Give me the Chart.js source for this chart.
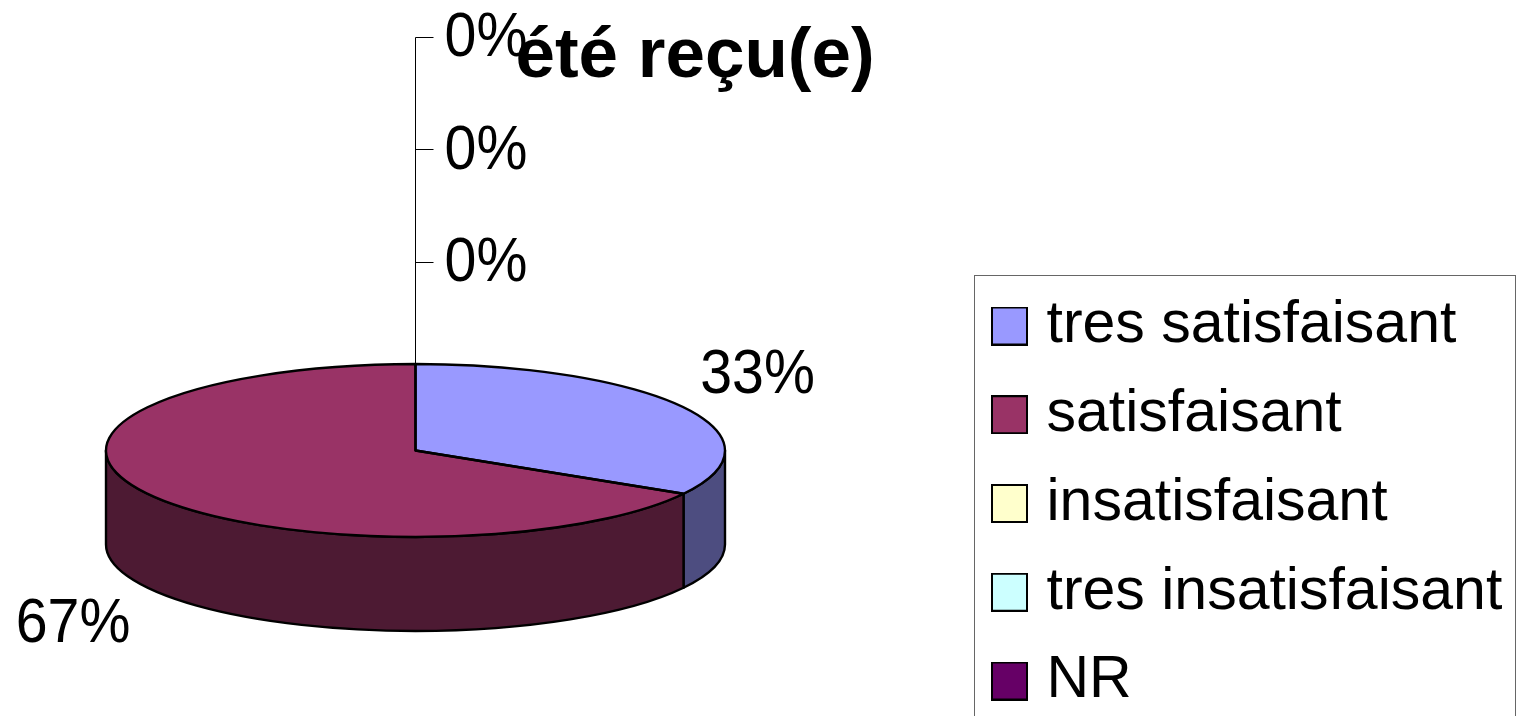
<!DOCTYPE html>
<html lang="fr">
<head>
<meta charset="utf-8">
<title>été reçu(e)</title>
<style>html,body{margin:0;padding:0;background:#fff;overflow:hidden}canvas{display:block}</style>
<script src="https://cdn.jsdelivr.net/npm/chart.js@4"></script>
</head>
<body>
<canvas id="c" width="1517" height="716"></canvas>
<script>
const titleText = 'été reçu(e)';
const categories = ['tres satisfaisant', 'satisfaisant', 'insatisfaisant', 'tres insatisfaisant', 'NR'];
const values = [1, 2, 0, 0, 0];
const topColors = ['#9999FF', '#993366', '#FFFFCC', '#CCFFFF', '#660066'];
const sideColors = ['#4D4D80', '#4D1A33', '#80805F', '#668080', '#330033'];

const FONT = '"Liberation Sans", Arial, sans-serif';
const SQUASH = 86.5 / 309.5;
const DEPTH = 94;

function swatch(color) {
  const s = document.createElement('canvas');
  s.width = 37; s.height = 39;
  const g = s.getContext('2d');
  g.fillStyle = color; g.fillRect(0, 0, 37, 39);
  g.strokeStyle = '#000'; g.lineWidth = 2; g.strokeRect(1, 1, 35, 37);
  return s;
}
const swatches = topColors.map(swatch);

const total = values.reduce((a, b) => a + b, 0);
const pct = v => Math.round(v / total * 100) + '%';

const pie3d = {
  id: 'pie3d',
  beforeDraw(chart) {
    const { ctx } = chart;
    ctx.save();
    ctx.strokeStyle = '#666'; ctx.lineWidth = 1;
    ctx.strokeRect(974.5, 275.5, 541, 470);
    ctx.restore();
  },
  afterLayout(chart) {
    const lg = chart.legend;
    const pad = lg.options.labels.padding;
    lg.left = 1002 - pad; lg.right = 1517; lg.top = 296.5 - pad; lg.bottom = lg.top + 560;
    const t = chart.titleBlock;
    const lh = t.options.font.size * 1.2;
    t.left = 395; t.right = 995; t.top = 57.5 - lh / 2; t.bottom = t.top + lh;
  },
  beforeDatasetsDraw(chart) {
    const { ctx } = chart;
    const arcs = chart.getDatasetMeta(0).data;
    ctx.save();
    arcs.forEach((el, i) => {
      if (!values[i]) return;
      const a = Math.max(el.startAngle, 0), b = Math.min(el.endAngle, Math.PI);
      if (b <= a) return;
      const rx = el.outerRadius, ry = rx * SQUASH;
      ctx.beginPath();
      ctx.ellipse(el.x, el.y, rx, ry, 0, a, b);
      ctx.ellipse(el.x, el.y + DEPTH, rx, ry, 0, b, a, true);
      ctx.closePath();
      ctx.fillStyle = sideColors[i]; ctx.fill();
      ctx.strokeStyle = '#000'; ctx.lineWidth = 2.4; ctx.lineJoin = 'round'; ctx.stroke();
    });
    ctx.restore();
    const o = arcs[0];
    ctx.save();
    ctx.translate(o.x, o.y); ctx.scale(1, SQUASH); ctx.translate(-o.x, -o.y);
  },
  afterDatasetsDraw(chart) {
    const { ctx } = chart;
    ctx.restore();
    const arcs = chart.getDatasetMeta(0).data;
    const o = arcs[0];
    const rx = o.outerRadius, ry = rx * SQUASH;
    ctx.save();
    ctx.strokeStyle = '#000'; ctx.lineWidth = 2.4; ctx.lineJoin = 'round';
    arcs.forEach((el, i) => {
      if (!values[i]) return;
      ctx.beginPath();
      ctx.moveTo(el.x, el.y);
      ctx.ellipse(el.x, el.y, rx, ry, 0, el.startAngle, el.endAngle);
      ctx.closePath();
      ctx.stroke();
    });
    // leader line shared by the three empty slices
    const tickY = [37, 149, 262];
    const lx = Math.floor(o.x) + 0.5;
    ctx.lineWidth = 1;
    ctx.beginPath();
    ctx.moveTo(lx, o.y);
    ctx.lineTo(lx, tickY[0] + 0.5);
    tickY.forEach(y => { ctx.moveTo(lx, y + 0.5); ctx.lineTo(o.x + 18, y + 0.5); });
    ctx.stroke();
    // value labels
    ctx.fillStyle = '#000';
    ctx.font = '60px ' + FONT;
    ctx.textAlign = 'center'; ctx.textBaseline = 'middle';
    const pos = [[757.5, 376], [73, 625], [486, 39], [486, 152], [486, 264]];
    values.forEach((v, i) => {
      ctx.save();
      ctx.translate(pos[i][0], pos[i][1]);
      ctx.scale(0.955, 1.04);
      ctx.fillText(pct(v), 0, 0);
      ctx.restore();
    });
    ctx.restore();
  }
};

new Chart(document.getElementById('c'), {
  type: 'pie',
  data: {
    labels: categories,
    datasets: [{ data: values, backgroundColor: topColors, borderWidth: 0, clip: false }]
  },
  options: {
    responsive: false,
    animation: false,
    radius: 309.5,
    layout: { padding: { left: 0, right: 686, top: 99.8, bottom: 0 } },
    plugins: {
      tooltip: { enabled: false },
      title: {
        display: true, text: titleText, color: '#000', padding: 0,
        font: { family: FONT, size: 71, weight: 'bold', lineHeight: 1.2 }
      },
      legend: {
        position: 'chartArea', align: 'start',
        labels: {
          color: '#000', padding: 29.75, boxWidth: 15, boxHeight: 39, usePointStyle: true,
          font: { family: FONT, size: 59 },
          generateLabels(chart) {
            return Chart.overrides.doughnut.plugins.legend.labels.generateLabels(chart)
              .map((it, i) => Object.assign(it, { pointStyle: swatches[i], hidden: false }));
          }
        }
      }
    }
  },
  plugins: [pie3d]
});
</script>
</body>
</html>
